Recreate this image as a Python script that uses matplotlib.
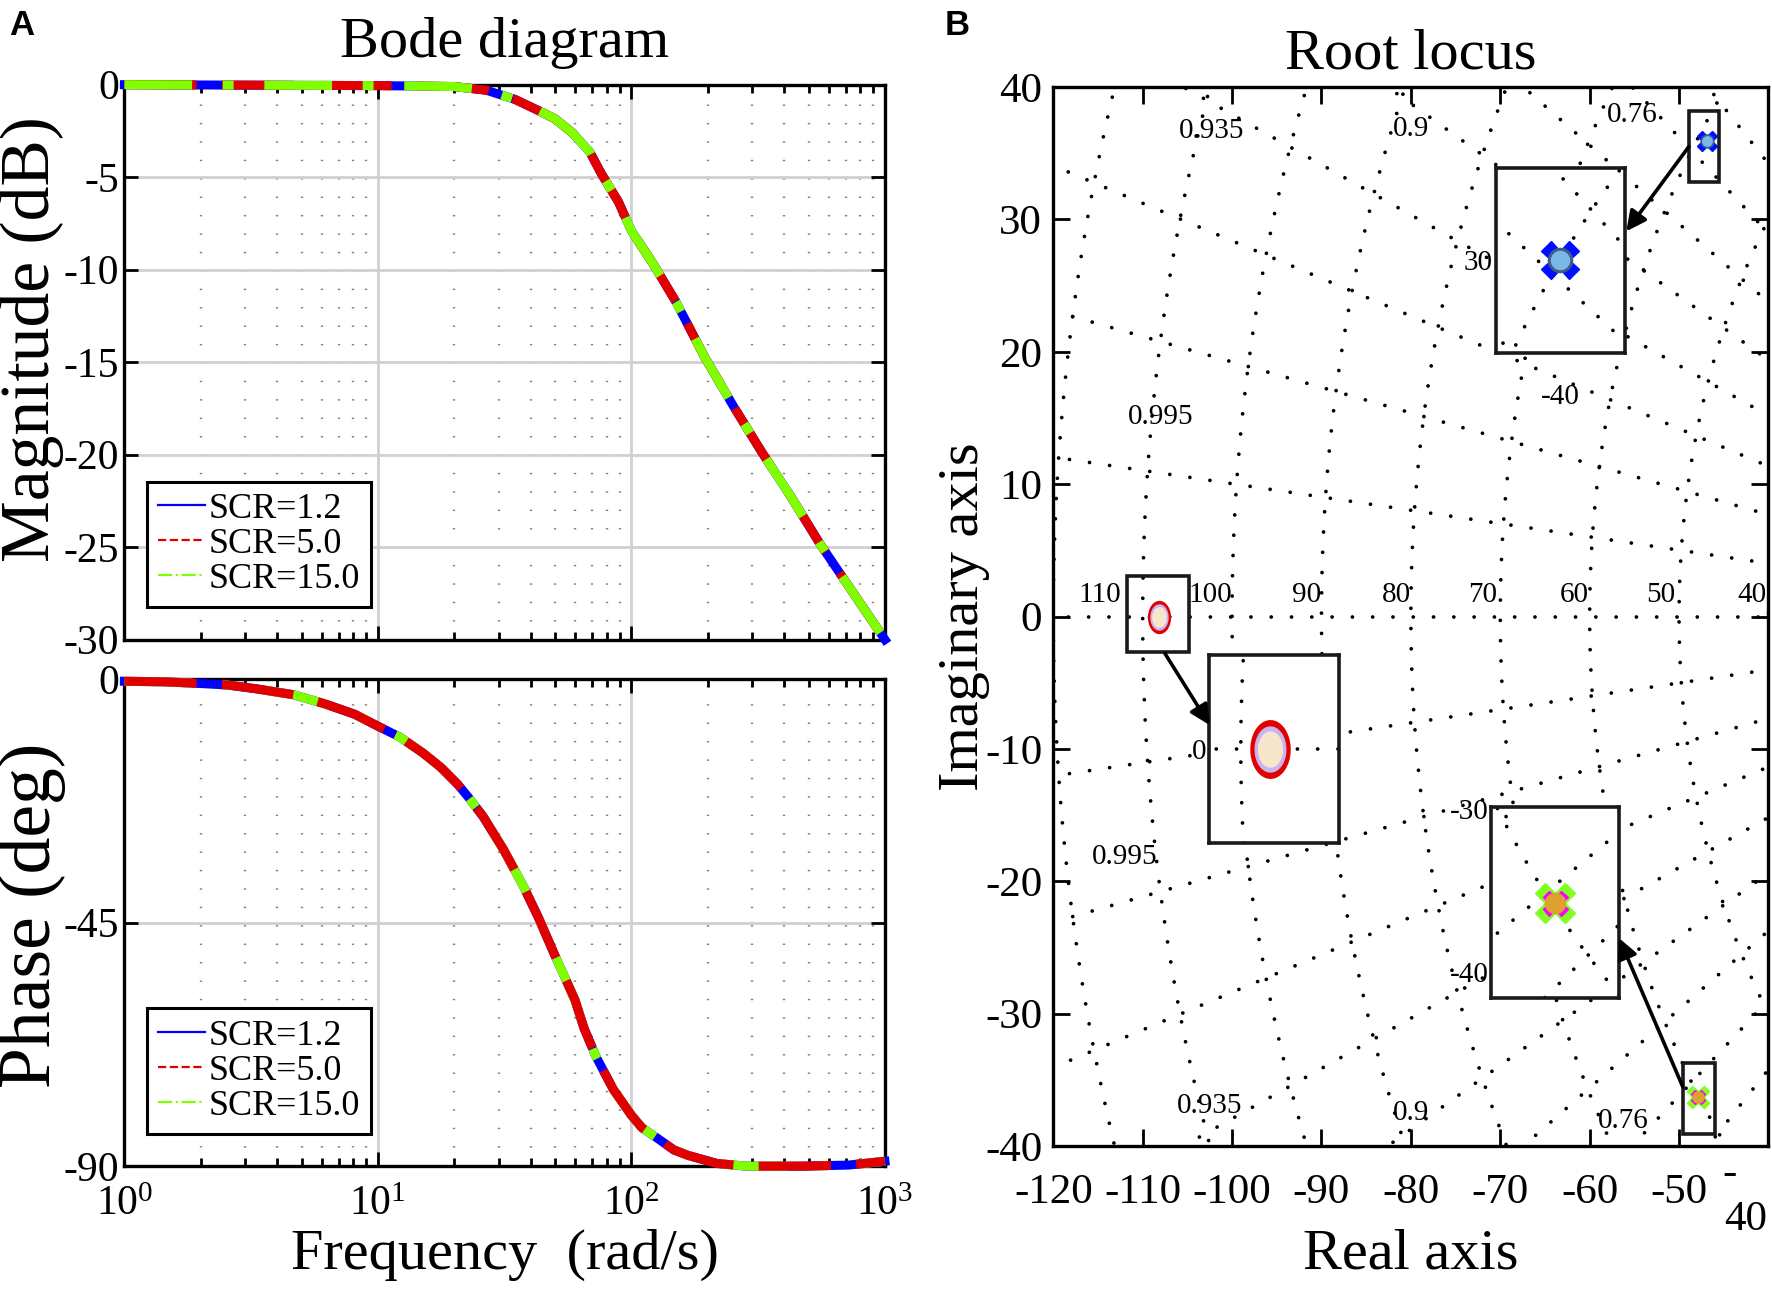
import numpy as np
import matplotlib
matplotlib.use('Agg')
import matplotlib.pyplot as plt
from matplotlib.lines import Line2D
from matplotlib.patches import Rectangle
from matplotlib.ticker import LogLocator, MultipleLocator, NullFormatter

plt.rcParams['font.family'] = ['Liberation Serif', 'DejaVu Serif']
plt.rcParams['mathtext.fontset'] = 'custom'
plt.rcParams['mathtext.rm'] = 'Liberation Serif'
plt.rcParams['axes.unicode_minus'] = False

# ---- Bode data (the three SCR curves overlap) ----
freq_mag = [1, 10, 20, 26.8, 34.8, 43, 50, 58.5, 68.6, 76, 89, 100, 122, 150,
            194, 253, 328, 427, 553, 718, 1000]
mag_db = [0, -0.05, -0.1, -0.3, -0.8, -1.4, -1.85, -2.6, -3.65, -4.8, -6.35, -7.9,
          -9.7, -11.75, -14.7, -17.4, -19.9, -22.3, -24.8, -27.1, -30.0]

freq_phase = [1, 1.44, 1.97, 2.56, 3.32, 4.66, 6.2, 8.1, 10, 12.2, 15.1, 17.7, 20.6,
              22.9, 26, 31.3, 37.6, 43, 49.4, 59.9, 65, 72.4, 84.8, 100, 110, 128,
              147, 167, 217, 283, 364, 475, 718, 1000]
phase_deg = [-0.4, -0.5, -0.8, -1.1, -1.8, -2.9, -4.6, -6.5, -8.7, -10.7, -13.7, -16.3,
             -19.4, -22.0, -25.4, -31.5, -38.4, -44.1, -50.6, -59.3, -64.5, -69.7,
             -75.8, -80.6, -82.9, -85.0, -87.0, -88.0, -89.5, -90.0, -90.0, -90.0,
             -89.8, -89.1]

scr_labels = ['SCR=1.2', 'SCR=5.0', 'SCR=15.0']
scr_colors = ['#0000ff', '#e00000', '#80ff00']

# ---- root locus data ----
pole_re = [-46.9, -108.2, -47.9]
pole_im = [35.9, 0.0, -36.3]
zeta_lines = [0.995, 0.982, 0.962, 0.935, 0.9, 0.86, 0.81, 0.76]
wn_circles = [40, 50, 60, 70, 80, 90, 100, 110, 120]
zeta_text = ['0.995', '0.935', '0.9', '0.76']
zeta_text_x = [-108.0, -102.3, -80.0, -55.2]
zeta_text_y_up = [15.1, 36.7, 36.8, 37.9]
zeta_text_x_low = [-112.0, -102.5, -80.0, -56.2]
zeta_text_y_low = [-18.2, -37.0, -37.5, -38.1]
wn_text = ['110', '100', '90', '80', '70', '60', '50', '40']
wn_text_x = [-114.8, -102.4, -91.7, -81.6, -72.0, -61.7, -52.0, -41.9]

fig = plt.figure(figsize=(17.72, 12.95), dpi=100)

ax_mag = fig.add_axes([0.0702, 0.5061, 0.4292, 0.4285])
ax_ph = fig.add_axes([0.0702, 0.0995, 0.4292, 0.3761])
ax_rl = fig.add_axes([0.5944, 0.115, 0.4036, 0.8178])

dash_styles = ['-', (0, (8, 2.8)), (0, (7.5, 3.4, 1.2, 3.4))]
legend_styles = ['-', '--', '-.']


def style_bode(ax, yticks, yminor):
    ax.set_xscale('log')
    ax.set_xlim(1, 1000)
    ax.set_yticks(yticks)
    ax.set_yticklabels([str(t) for t in yticks])
    ax.yaxis.set_minor_locator(MultipleLocator(yminor))
    ax.xaxis.set_minor_locator(LogLocator(base=10, subs=np.arange(2, 10)))
    ax.xaxis.set_minor_formatter(NullFormatter())
    ax.grid(which='major', color='#d0d0d0', lw=2.0, ls='-')
    ax.grid(which='minor', axis='x', color='#808080', lw=1.7, ls=(0, (0.6, 7.2)))
    ax.set_axisbelow(True)
    for sp in ax.spines.values():
        sp.set_linewidth(2.4)
    ax.tick_params(which='both', direction='in', top=True, right=True, width=2)
    ax.tick_params(which='major', length=10, labelsize=30, pad=4)
    ax.tick_params(which='minor', length=6)
    ax.tick_params(which='minor', axis='y', length=0)


def bode_legend(ax, y0):
    handles = [Line2D([], [], color=c, lw=1.6, ls=s) for c, s in zip(scr_colors, legend_styles)]
    leg = ax.legend(handles, scr_labels, loc='lower left', bbox_to_anchor=(0.03, y0),
                    fontsize=26, frameon=True, fancybox=False, framealpha=1,
                    edgecolor='black', handlelength=1.3, handletextpad=0.1,
                    borderpad=0.3, labelspacing=0.05, borderaxespad=0)
    leg.get_frame().set_linewidth(2.2)


# magnitude: green on top
for i in [0, 1, 2]:
    ax_mag.plot(freq_mag, mag_db, color=scr_colors[i], lw=6.5, ls=dash_styles[i],
                zorder=3 + i, clip_on=False)
ax_mag.set_ylim(-30, 0)
style_bode(ax_mag, [0, -5, -10, -15, -20, -25, -30], 1)
ax_mag.tick_params(axis='x', labelbottom=False)
bode_legend(ax_mag, 0.059)

# phase: red on top
for z, i in enumerate([0, 2, 1]):
    ax_ph.plot(freq_phase, phase_deg, color=scr_colors[i], lw=6.5, ls=dash_styles[i],
               zorder=3 + z, clip_on=False)
ax_ph.set_ylim(-90, 0)
style_bode(ax_ph, [0, -45, -90], 4.5)
ax_ph.tick_params(axis='x', pad=14)
bode_legend(ax_ph, 0.067)

fig.text(0.285, 0.967, 'Bode diagram', fontsize=42, ha='center', va='center')
fig.text(0.285, 0.031, 'Frequency  (rad/s)', fontsize=42, ha='center', va='center')
fig.text(0.018, 0.738, 'Magnitude (dB)', fontsize=50, ha='center', va='center', rotation=90)
fig.text(0.018, 0.293, 'Phase (deg)', fontsize=53, ha='center', va='center', rotation=90)

# ---- root locus ----
dot_kw = dict(color='black', lw=2.7, ls=(0, (0.01, 5.4)), dash_capstyle='round')


def draw_sgrid(ax):
    th = np.linspace(np.pi / 2, 3 * np.pi / 2, 600)
    for r in wn_circles:
        ax.plot(r * np.cos(th), r * np.sin(th), **dot_kw)
    for z in zeta_lines:
        a = np.arccos(z)
        for sgn in [1, -1]:
            ax.plot([-200 * np.cos(a), 0], [sgn * 200 * np.sin(a), 0], **dot_kw)
    ax.plot([-200, 0], [0, 0], **dot_kw)


draw_sgrid(ax_rl)
ax_rl.set_xlim(-120, -40)
ax_rl.set_ylim(-40, 40)
ax_rl.set_xticks(np.arange(-120, -39, 10))
ax_rl.set_xticklabels([str(v) for v in range(-120, -40, 10)] + [''])
ax_rl.set_yticks(np.arange(-40, 41, 10))
ax_rl.set_yticklabels([str(v) for v in range(-40, 41, 10)])
for sp in ax_rl.spines.values():
    sp.set_linewidth(2.4)
ax_rl.tick_params(direction='in', top=True, right=True, length=12, width=2, labelsize=31)
ax_rl.tick_params(axis='x', pad=20)
ax_rl.tick_params(axis='y', pad=8)
# the last x tick label is split in two lines at the figure edge
fig.text(0.976, 0.094, '-', fontsize=31, ha='center', va='center')
fig.text(0.985, 0.058, '40', fontsize=31, ha='center', va='center')

for t, x, y in zip(zeta_text, zeta_text_x, zeta_text_y_up):
    ax_rl.text(x, y, t, fontsize=21, ha='center', va='center')
for t, x, y in zip(zeta_text, zeta_text_x_low, zeta_text_y_low):
    ax_rl.text(x, y, t, fontsize=21, ha='center', va='center')
for t, x in zip(wn_text, wn_text_x):
    ax_rl.text(x, 1.6, t, fontsize=21, ha='center', va='center')


def draw_pole(ax, x, y, kind, big):
    s = 1.8 if big else 1.0
    if kind == 'top':
        ax.plot(x, y, marker='X', ms=15 * s, color='#0010ff', mec='#0010ff', ls='none', zorder=6)
        ax.plot(x, y, marker='o', ms=9 * s, color='#7ab8e6', mec='#3c5c8c', mew=1.2 * s,
                ls='none', zorder=7)
    elif kind == 'left':
        t = np.linspace(0, 2 * np.pi, 40)
        ell = list(zip(0.68 * np.cos(t), np.sin(t)))
        ax.plot(x, y, marker=ell, ms=23 * s, color='#e00000', mec='#e00000',
                ls='none', zorder=6)
        ax.plot(x, y, marker=ell, ms=18 * s, color='#c8b4f0', mec='#c8b4f0',
                ls='none', zorder=7)
        ax.plot(x, y, marker=ell, ms=14 * s, color='#f8e6cc', mec='#f8e6cc',
                ls='none', zorder=8)
    else:
        ax.plot(x, y, marker='X', ms=16 * s, color='#80ff20', mec='#80ff20', ls='none', zorder=6)
        ax.plot(x, y, marker='X', ms=10 * s, color='#ff00ff', mec='#ff00ff', ls='none', zorder=7)
        ax.plot(x, y, marker='o', ms=8 * s, color='#e0a030', mec='#e0a030', ls='none', zorder=8)


kinds = ['top', 'left', 'bottom']
for x, y, k in zip(pole_re, pole_im, kinds):
    draw_pole(ax_rl, x, y, k, False)

# small zoom boxes (x0, y0, w, h) in data units
zoom_boxes = [(-48.9, 32.8, 3.4, 5.4), (-111.7, -2.7, 6.9, 5.8), (-49.6, -39.1, 3.6, 5.4)]
for bx, by, bw, bh in zoom_boxes:
    ax_rl.add_patch(Rectangle((bx, by), bw, bh, fill=False, ec='#1a1a1a', lw=2.6, zorder=9))

# big insets
inset_pos = [(-70.5, 19.9, 14.4, 14.0), (-102.6, -17.1, 14.6, 14.2), (-71.0, -28.8, 14.3, 14.4)]
inset_xlim = [(-44.1, -35.9), (-111.96, -103.96), (-52.4, -43.4)]
inset_ylim = [(25.4, 34.6), (-6.0, 6.0), (-41.6, -29.9)]
inset_marks = [(-40.0, 30.0), (-108.2, 0.0), (-47.9, -35.8)]
for i in range(3):
    axi = ax_rl.inset_axes(list(inset_pos[i]), transform=ax_rl.transData, zorder=9)
    draw_sgrid(axi)
    axi.set_xlim(inset_xlim[i])
    axi.set_ylim(inset_ylim[i])
    draw_pole(axi, inset_marks[i][0], inset_marks[i][1], kinds[i], True)
    for sp in axi.spines.values():
        sp.set_linewidth(2.6)
        sp.set_color('#1a1a1a')
    axi.tick_params(length=0, labelsize=21, pad=2)
    if i == 0:
        axi.set_xticks([-40])
        axi.set_xticklabels(['-40'])
        axi.set_yticks([30])
        axi.set_yticklabels(['30'])
        axi.tick_params(axis='x', pad=22)
    elif i == 1:
        axi.set_xticks([])
        axi.set_yticks([0])
        axi.set_yticklabels(['0'])
    else:
        axi.set_xticks([])
        axi.set_yticks([-30, -40])
        axi.set_yticklabels(['-30', '-40'])

arrows = [((-48.9, 35.5), (-55.9, 29.1)), ((-107.5, -2.8), (-102.5, -8.2)),
          ((-49.6, -35.5), (-56.7, -24.3))]
for start, tip in arrows:
    ax_rl.annotate('', xy=tip, xytext=start,
                   arrowprops=dict(arrowstyle='-|>', lw=2.6, color='black',
                                   mutation_scale=30, shrinkA=0, shrinkB=0), zorder=10)

fig.text(0.796, 0.958, 'Root locus', fontsize=42, ha='center', va='center')
fig.text(0.796, 0.031, 'Real axis', fontsize=42, ha='center', va='center')
fig.text(0.544, 0.524, 'Imaginary axis', fontsize=42, ha='center', va='center', rotation=90)

fig.text(0.005, 0.993, 'A', fontsize=25, fontweight='bold', family='Liberation Sans',
         ha='left', va='top')
fig.text(0.533, 0.993, 'B', fontsize=25, fontweight='bold', family='Liberation Sans',
         ha='left', va='top')

fig.savefig('out.png', dpi=100)
